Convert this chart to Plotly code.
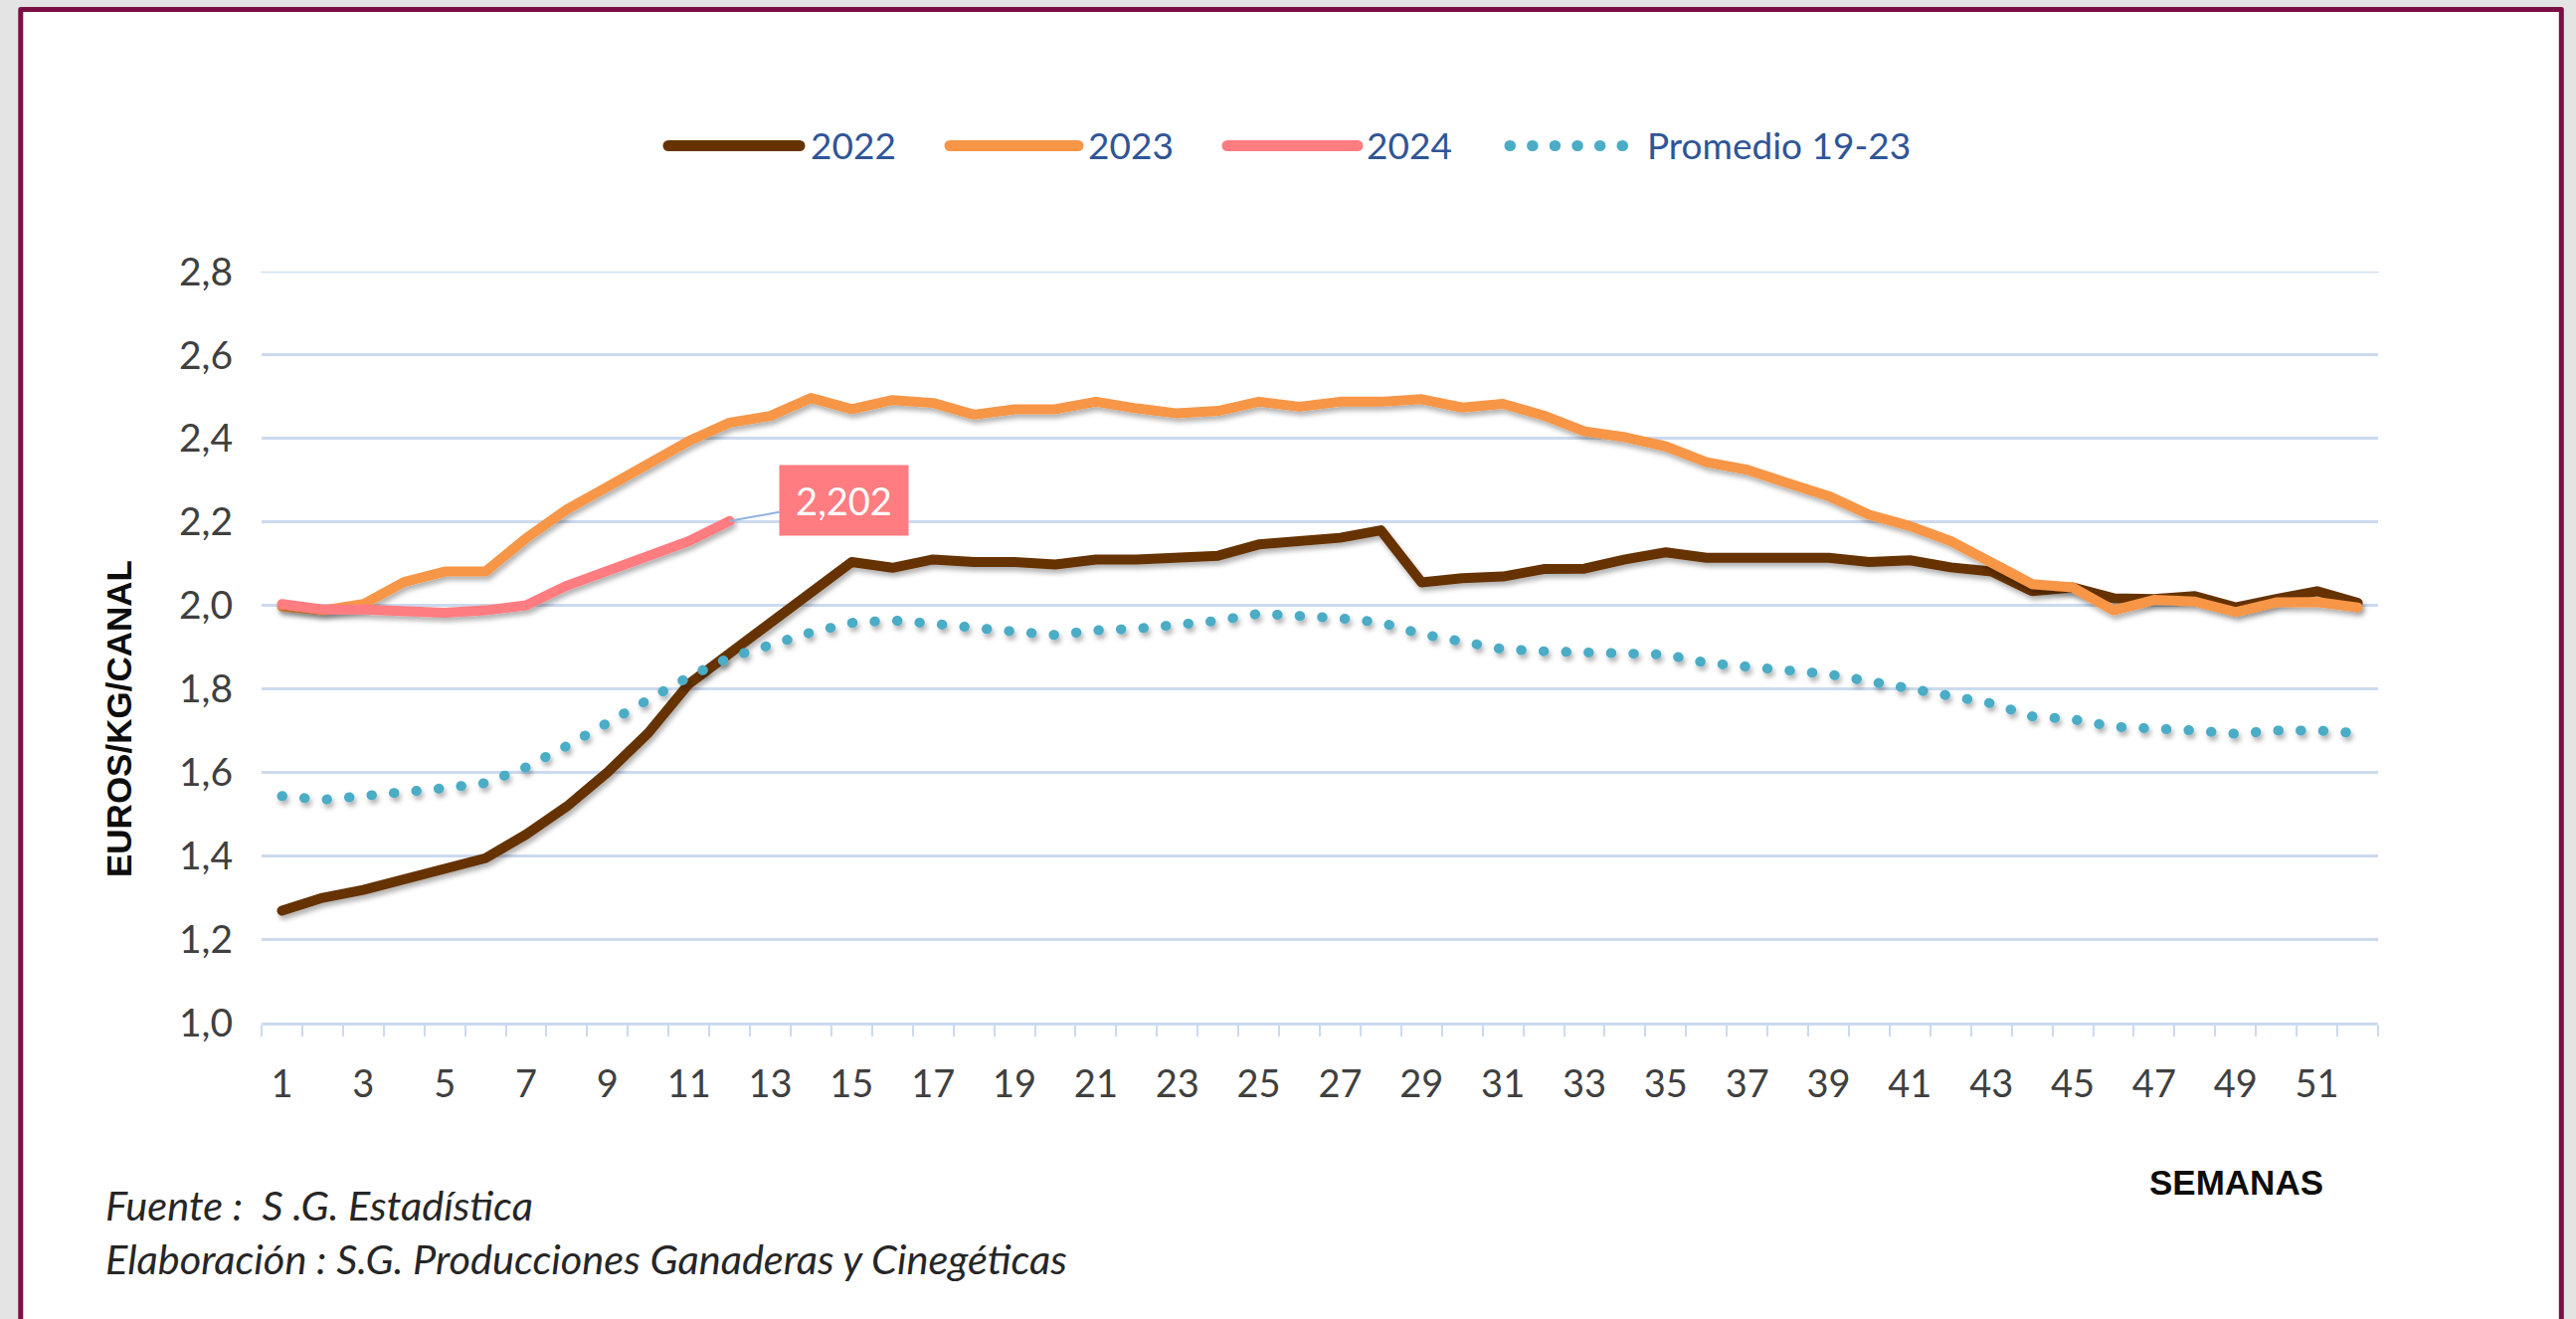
import plotly.graph_objects as go

# ---------------- data ----------------
weeks = list(range(1, 53))
tick_weeks = weeks[::2]
y_ticks = [1.0, 1.2, 1.4, 1.6, 1.8, 2.0, 2.2, 2.4, 2.6, 2.8]

y2022 = [1.268, 1.299, 1.318, 1.343, 1.368, 1.394, 1.451, 1.518, 1.600, 1.694,
         1.812, 1.885, 1.958, 2.030, 2.104, 2.090, 2.110, 2.104, 2.104, 2.098,
         2.110, 2.110, 2.114, 2.119, 2.146, 2.156, 2.162, 2.180, 2.055, 2.065,
         2.069, 2.087, 2.088, 2.110, 2.127, 2.114, 2.114, 2.119, 2.114, 2.104,
         2.108, 2.091, 2.081, 2.034, 2.043, 2.017, 2.015, 2.022, 1.995, 2.015,
         2.034, 2.006]
y2023 = [1.997, 1.988, 2.003, 2.056, 2.081, 2.081, 2.161, 2.230, 2.284, 2.337,
         2.394, 2.438, 2.454, 2.497, 2.470, 2.492, 2.485, 2.457, 2.470, 2.470,
         2.488, 2.472, 2.460, 2.466, 2.488, 2.476, 2.488, 2.488, 2.494, 2.474,
         2.483, 2.455, 2.417, 2.403, 2.381, 2.343, 2.325, 2.293, 2.262, 2.217,
         2.190, 2.154, 2.104, 2.051, 2.043, 1.988, 2.013, 2.009, 1.984, 2.007,
         2.008, 1.995]
y2024 = [2.003, 1.990, 1.990, 1.988, 1.982, 1.988, 2.000, 2.047, 2.081, 2.117,
         2.154, 2.202]
prom = [1.543, 1.534, 1.543, 1.550, 1.562, 1.574, 1.612, 1.663, 1.717, 1.774,
        1.829, 1.875, 1.905, 1.935, 1.958, 1.964, 1.956, 1.945, 1.937, 1.929,
        1.940, 1.944, 1.951, 1.963, 1.980, 1.975, 1.969, 1.959, 1.931, 1.913,
        1.895, 1.890, 1.888, 1.886, 1.882, 1.862, 1.854, 1.844, 1.835, 1.818,
        1.800, 1.781, 1.765, 1.734, 1.727, 1.709, 1.707, 1.700, 1.692, 1.700,
        1.700, 1.694]
series_names = ["2022", "2023", "2024", "Promedio 19-23"]

# ---------------- styles ----------------
C2022, C2023, C2024, CPROM = "#663300", "#f79646", "#ff7c80", "#4bacc6"
GRID = "#cbdaef"
TXT = "#404040"
LEG = "#2f5597"
DOT = "0.5px,22.1px"
LW = 10

W, H = 2590, 1326
L, R, T, B = 263, 2391, 273, 1028
PW, PH = R - L, B - T


def px(x):
    return (x - L) / PW


def py(y):
    return 1 - (y - T) / PH


fig = go.Figure()
series = [(series_names[0], y2022, C2022, "solid"),
          (series_names[1], y2023, C2023, "solid"),
          (series_names[2], y2024, C2024, "solid"),
          (series_names[3], prom, CPROM, DOT)]
for name, ys, col, dash in series:
    fig.add_trace(go.Scatter(x=weeks[:len(ys)], y=ys, mode="lines", name=name,
                             line=dict(color=col, width=LW, dash=dash),
                             showlegend=False))

shapes = []
# outer frame
shapes.append(dict(type="rect", xref="paper", yref="paper",
                   x0=px(20.8), x1=px(2575.3), y0=py(9.5), y1=py(1400),
                   line=dict(color="#7b0f45", width=5), fillcolor="white",
                   layer="below"))
# top gridline (plotly drops the grid line on the range edge)
shapes.append(dict(type="line", xref="paper", yref="y", x0=0, x1=1,
                   y0=y_ticks[-1], y1=y_ticks[-1],
                   line=dict(color=GRID, width=2.5), layer="below"))
# manual legend
leg_y = py(146.5)
leg_items = [(672, 804, 813, C2022, "solid"),
             (955, 1084, 1092, C2023, "solid"),
             (1234, 1365, 1372, C2024, "solid"),
             (1518, 1633, 1654, CPROM, DOT)]
annotations = []
for (x0, x1, tx, col, dash), name in zip(leg_items, series_names):
    shapes.append(dict(type="line", xref="paper", yref="paper",
                       x0=px(x0), x1=px(x1), y0=leg_y, y1=leg_y,
                       line=dict(color=col, width=11, dash=dash)))
    annotations.append(dict(xref="paper", yref="paper", x=px(tx), y=py(145),
                            xanchor="left", yanchor="middle", showarrow=False,
                            text=name, font=dict(family="Lato", size=37, color=LEG)))

# data label for the last 2024 value
last_w = weeks[len(y2024) - 1]
annotations.append(dict(x=last_w, y=y2024[-1], xref="x", yref="y",
                        text=f"{y2024[-1]:.3f}".replace(".", ","),
                        showarrow=True, arrowhead=0, arrowwidth=2,
                        arrowcolor="#8fb1e0", ax=115, ay=-21,
                        standoff=0, startstandoff=0,
                        bgcolor=C2024, width=129, height=70, borderpad=0,
                        font=dict(family="Lato", size=38, color="white")))

# axis titles
annotations.append(dict(xref="paper", yref="paper", x=px(119), y=py(723),
                        text="<b>EUROS/KG/CANAL</b>", textangle=-90,
                        showarrow=False, xanchor="center", yanchor="middle",
                        font=dict(family="Liberation Sans", size=35, color="#0d0d0d")))
annotations.append(dict(xref="paper", yref="paper", x=px(2248), y=py(1188),
                        text="<b>SEMANAS</b>", showarrow=False,
                        xanchor="center", yanchor="middle",
                        font=dict(family="Liberation Sans", size=35, color="#0d0d0d")))
# footer
annotations.append(dict(xref="paper", yref="paper", x=px(104), y=py(1211),
                        text="<i>Fuente :\u00a0 S .G. Estadística</i>", showarrow=False,
                        xanchor="left", yanchor="middle",
                        font=dict(family="Lato", size=41.5, color="#262626")))
annotations.append(dict(xref="paper", yref="paper", x=px(104), y=py(1265),
                        text="<i>Elaboración : S.G. Producciones Ganaderas y Cinegéticas</i>",
                        showarrow=False, xanchor="left", yanchor="middle",
                        font=dict(family="Lato", size=41.5, color="#262626")))

fig.update_layout(
    width=W, height=H, autosize=False,
    margin=dict(l=L, r=W - R, t=T, b=H - B, pad=0),
    paper_bgcolor="#e4e4e4", plot_bgcolor="white",
    separators=", ",
    shapes=shapes, annotations=annotations,
    showlegend=False,
    xaxis=dict(range=[0.5, 52.5], tickmode="array", tickvals=tick_weeks,
               ticktext=[str(w) for w in tick_weeks], ticks="",
               showgrid=False, zeroline=False, showline=True,
               linecolor=GRID, linewidth=3, ticklabelstandoff=26,
               tickfont=dict(family="Lato", size=38, color=TXT),
               minor=dict(ticks="outside", ticklen=11, tickwidth=2, tickcolor=GRID,
                          tickmode="linear", tick0=0.5, dtick=1, showgrid=False)),
    yaxis=dict(range=[1.0, 2.8], tickmode="array", tickvals=y_ticks,
               tickformat=".1f", ticks="", showgrid=True, gridcolor=GRID,
               gridwidth=2.5, zeroline=False, showline=False,
               ticklabelstandoff=28,
               tickfont=dict(family="Lato", size=39, color=TXT)),
)

post = r"""
document.body.style.margin='0';
document.body.style.overflow='hidden';
var gd=document.getElementById('{plot_id}');
var svg=gd.querySelector('svg.main-svg');
var ns='http://www.w3.org/2000/svg';
var defs=document.createElementNS(ns,'defs');
var f=document.createElementNS(ns,'filter');
f.setAttribute('id','lshadow');f.setAttribute('filterUnits','userSpaceOnUse');
f.setAttribute('x','-400');f.setAttribute('y','-400');f.setAttribute('width','3400');f.setAttribute('height','2200');
var ds=document.createElementNS(ns,'feDropShadow');
ds.setAttribute('dx','2');ds.setAttribute('dy','4');ds.setAttribute('stdDeviation','2.5');
ds.setAttribute('flood-color','#000');ds.setAttribute('flood-opacity','0.3');
f.appendChild(ds);defs.appendChild(f);svg.insertBefore(defs,svg.firstChild);
gd.querySelectorAll('.scatterlayer .trace').forEach(function(t){t.setAttribute('filter','url(#lshadow)');});
gd.querySelectorAll('.scatterlayer path.js-line, .shapelayer path').forEach(function(p){
  p.style.strokeLinecap='round';p.style.strokeLinejoin='round';});
"""

fig.write_html("out.html", post_script=post, config={"displayModeBar": False})
